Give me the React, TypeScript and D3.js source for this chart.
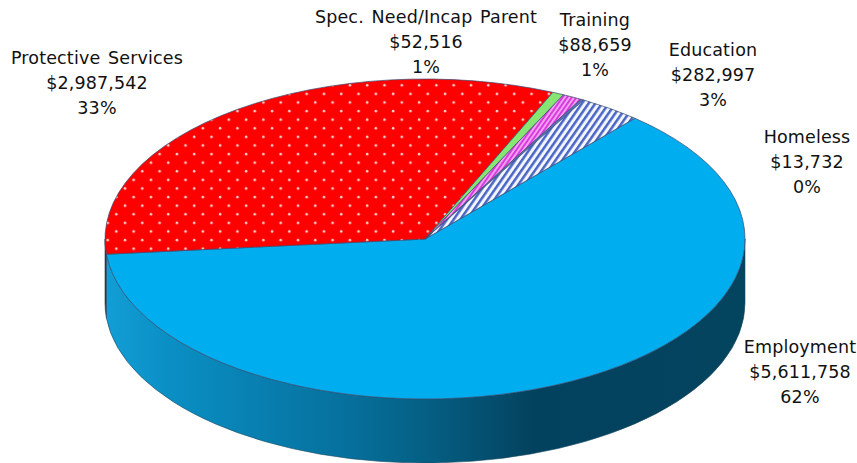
import React from 'react';
import { arc, pie, scaleLinear } from 'd3';

const categories = ['Employment', 'Protective Services', 'Spec. Need/Incap Parent', 'Training', 'Homeless', 'Education'];
const amounts = [5611758, 2987542, 52516, 88659, 13732, 282997];
const amountLabels = ['$5,611,758', '$2,987,542', '$52,516', '$88,659', '$13,732', '$282,997'];
const percentLabels = ['62%', '33%', '1%', '1%', '0%', '3%'];
const fills = ['#00adef', 'url(#dots)', '#86e573', 'url(#pinkStripes)', '#5b6fc0', 'url(#blueStripes)'];
const labelX = [800, 97, 426, 595, 807, 713];
const labelY = [353, 64, 23, 26, 143, 56];

const cx = 425, cy = 239, rx = 320, ry = 160, depth = 64;
const toRad = Math.PI / 180;

// position along the tilted rim, angle clockwise from 12 o'clock
const rim = (a: number, dy = 0) => `${cx + rx * Math.sin(a)} ${cy - ry * Math.cos(a) + dy}`;
const wallPath = (a0: number, a1: number) =>
  `M${rim(a0)} A${rx} ${ry} 0 0 1 ${rim(a1)} L${rim(a1, depth)} A${rx} ${ry} 0 0 0 ${rim(a0, depth)} Z`;

export default function App() {
  const slices = pie<number>().sort(null)
    .startAngle(41 * toRad)
    .endAngle(401 * toRad)(amounts);
  const path = arc<any>().innerRadius(0).outerRadius(rx);
  const ySquash = scaleLinear().domain([0, rx]).range([0, ry]);
  const squash = ySquash(rx) / rx;
  const unsquash = `scale(1,${1 / squash})`; // patterns live inside the squashed group

  const emp = slices[0], prot = slices[1];

  return (
    <svg width={857} height={463} style={{ position: 'absolute', left: 0, top: 0 }}
      fontFamily="'DejaVu Sans', sans-serif" fontSize={17.5} letterSpacing={0.15} wordSpacing={2}>
      <defs>
        <linearGradient id="wall" gradientUnits="userSpaceOnUse" x1={105} x2={745} y1={0} y2={0}>
          <stop offset="0" stopColor="#129ed6" />
          <stop offset="0.1" stopColor="#0a8fc4" />
          <stop offset="0.38" stopColor="#06709c" />
          <stop offset="0.51" stopColor="#055e82" />
          <stop offset="0.67" stopColor="#03425e" />
          <stop offset="1" stopColor="#03445f" />
        </linearGradient>
        <pattern id="dots" patternUnits="userSpaceOnUse" width={17.3} height={17.2} x={-304} y={-37.3}
          patternTransform={unsquash}>
          <rect width={17.3} height={17.2} fill="#fe0000" />
          <circle cx={4} cy={4} r={1.3} fill="#ffd0d0" />
          <circle cx={12.65} cy={12.6} r={1.3} fill="#ffd0d0" />
        </pattern>
        <pattern id="blueStripes" patternUnits="userSpaceOnUse" width={5.5} height={5.5}
          patternTransform={`${unsquash} rotate(35)`}>
          <rect width={5.5} height={5.5} fill="#f4f6ff" />
          <rect width={2.5} height={5.5} fill="#4a66c4" />
        </pattern>
        <pattern id="pinkStripes" patternUnits="userSpaceOnUse" width={3.8} height={3.8}
          patternTransform={`${unsquash} rotate(35)`}>
          <rect width={3.8} height={3.8} fill="#f2a0f0" />
          <rect width={1.9} height={3.8} fill="#d83adf" />
        </pattern>
      </defs>

      <path d={wallPath(prot.startAngle, 270 * toRad)} fill="#8a0b2a" stroke="#33384e" strokeWidth={0.6} />
      <path d={wallPath(90 * toRad, emp.endAngle)} fill="url(#wall)" stroke="#1d4a62" strokeWidth={0.6} />

      <g transform={`translate(${cx},${cy}) scale(1,${squash})`}>
        {slices.map((s, i) => (
          <path key={categories[i]} d={path(s) as string} fill={fills[i]}
            stroke="#3a4a70" strokeWidth={0.7} vectorEffect="non-scaling-stroke" />
        ))}
      </g>

      {categories.map((c, i) => (
        <text key={c} textAnchor="middle" fill="#111" x={labelX[i]} y={labelY[i]}>
          <tspan x={labelX[i]}>{c}</tspan>
          <tspan x={labelX[i]} dy={25}>{amountLabels[i]}</tspan>
          <tspan x={labelX[i]} dy={25}>{percentLabels[i]}</tspan>
        </text>
      ))}
    </svg>
  );
}
